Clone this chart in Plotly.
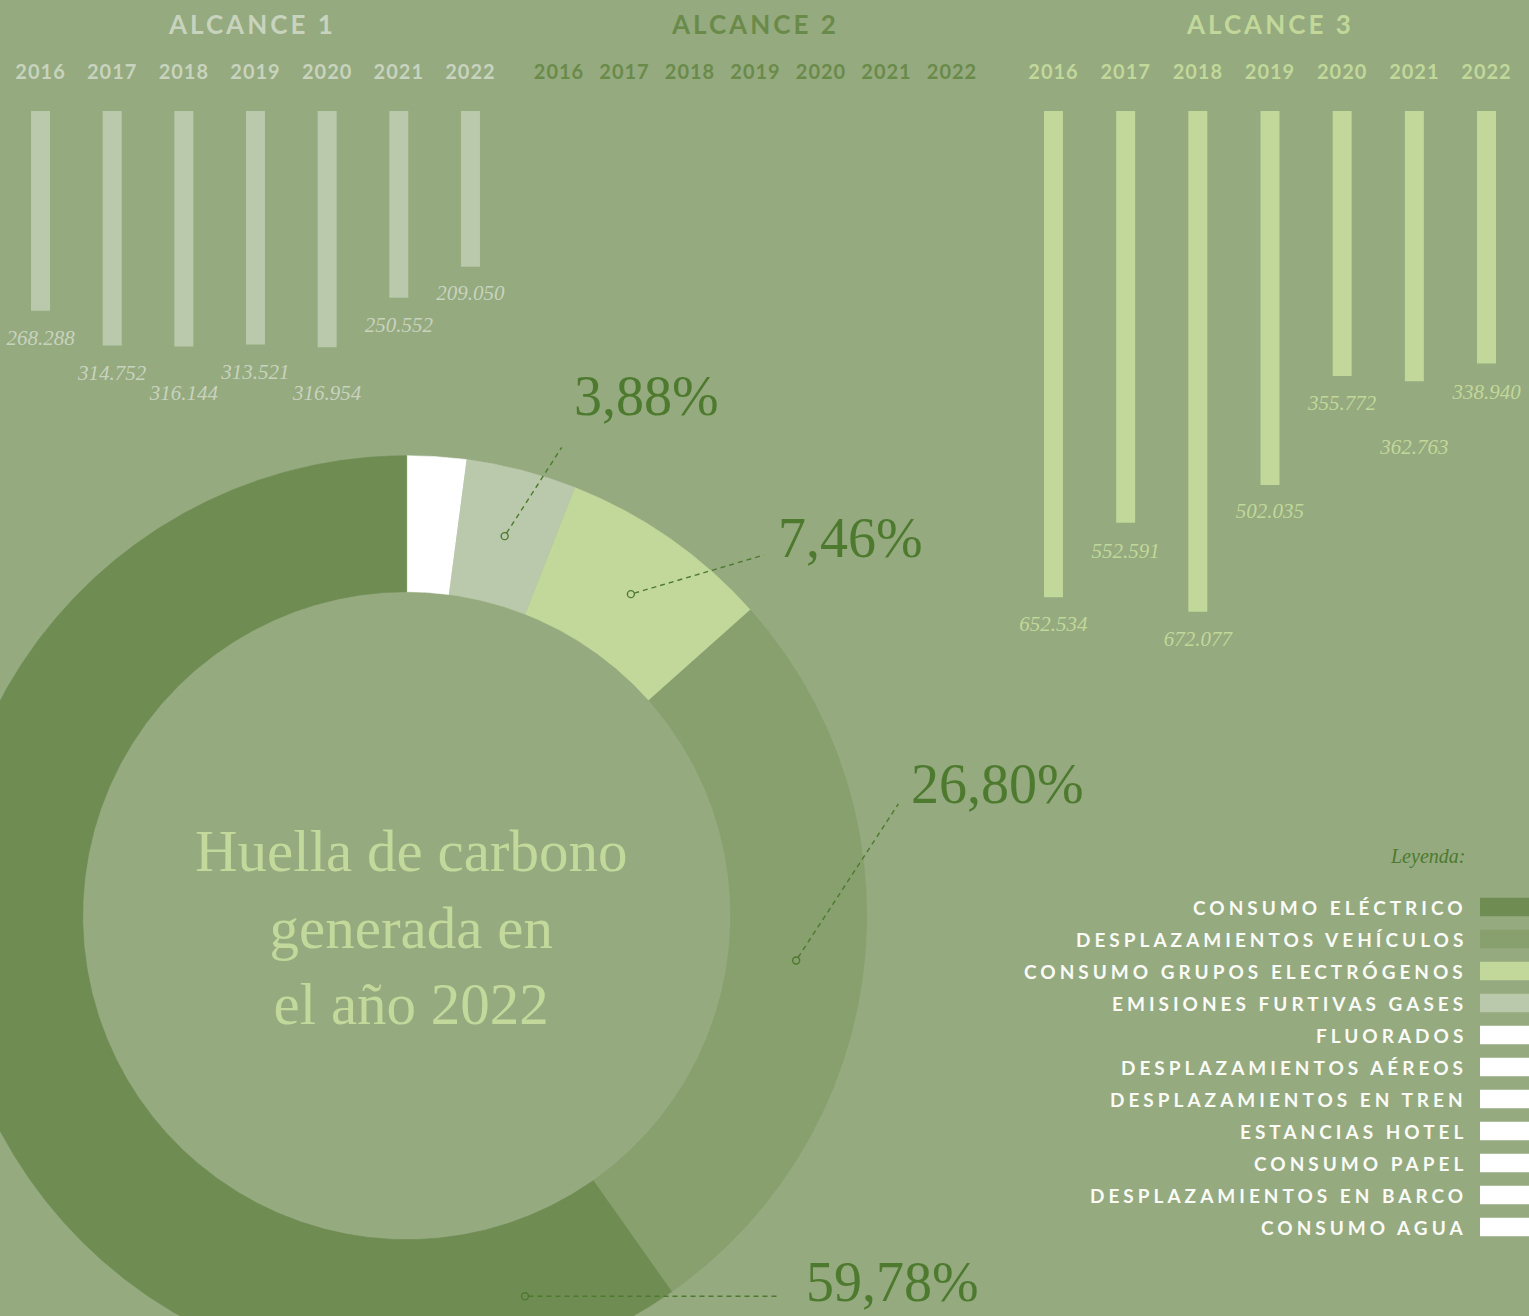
import numpy as np
import plotly.graph_objects as go

W, H = 1529, 1316

# ---------------- data ----------------
years = ["2016", "2017", "2018", "2019", "2020", "2021", "2022"]
alcance1 = [268.288, 314.752, 316.144, 313.521, 316.954, 250.552, 209.050]
alcance2 = [None, None, None, None, None, None, None]
alcance3 = [652.534, 552.591, 672.077, 502.035, 355.772, 362.763, 338.940]
scope_titles = ["ALCANCE 1", "ALCANCE 2", "ALCANCE 3"]

slice_names = ["Otras fuentes", "Emisiones furtivas gases fluorados",
               "Consumo grupos electrógenos", "Desplazamientos vehículos",
               "Consumo eléctrico"]
slice_pct = [2.08, 3.88, 7.46, 26.80, 59.78]
slice_labelled = [False, True, True, True, True]

center_title = ["Huella de carbono", "generada en", "el año 2022"]

legend_title = "Leyenda:"
legend_labels = ["CONSUMO ELÉCTRICO", "DESPLAZAMIENTOS VEHÍCULOS",
                 "CONSUMO GRUPOS ELECTRÓGENOS", "EMISIONES FURTIVAS GASES",
                 "FLUORADOS", "DESPLAZAMIENTOS AÉREOS", "DESPLAZAMIENTOS EN TREN",
                 "ESTANCIAS HOTEL", "CONSUMO PAPEL", "DESPLAZAMIENTOS EN BARCO",
                 "CONSUMO AGUA"]

# ---------------- style ----------------
BG = "#95AA7F"
DARK = "#6F8C52"
MID = "#87A06E"
LIGHT = "#C1D89A"
GREY = "#BAC9AB"
WHITE = "#FFFFFF"
PCT_COL = "#4E7A2F"
A1_TXT = "#C8D3BE"
A2_TXT = "#6A8A4A"
A3_TXT = "#C1D89A"
TITLE_COL = "#C3D99C"
SANS = "Lato"
SERIF = "Liberation Serif"

slice_colors = [WHITE, GREY, LIGHT, MID, DARK]
legend_colors = [DARK, MID, LIGHT, GREY, WHITE, WHITE, WHITE, WHITE, WHITE, WHITE, WHITE]


def px(x):
    return x / W


def py(y):
    return 1 - y / H


def spaced(t, s):
    return f'<span style="letter-spacing:{s}px">{t}</span>'


fig = go.Figure()

# ---------------- bar panels ----------------
BAR_TOP, BAR_BOTTOM = 111, 711
PX_PER_UNIT = 0.745
y_range_len = (BAR_BOTTOM - BAR_TOP) / PX_PER_UNIT

fig.add_trace(go.Bar(x=years, y=alcance1, xaxis="x", yaxis="y", marker_color=GREY,
                     marker_line_width=0, width=0.265, hoverinfo="skip"))
fig.add_trace(go.Bar(x=years, y=alcance2, xaxis="x2", yaxis="y", marker_color=MID,
                     marker_line_width=0, width=0.265, hoverinfo="skip"))
fig.add_trace(go.Bar(x=years, y=alcance3, xaxis="x3", yaxis="y", marker_color=LIGHT,
                     marker_line_width=0, width=0.263, hoverinfo="skip"))

# value labels under the bars (pixel offsets below the bar end)
a1_offsets = [29, 29, 48, 29, 48, 29, 28]
a3_offsets = [29, 30, 29, 28, 29, 67, 30]
for vals, xr, offs, col in [(alcance1, "x", a1_offsets, A1_TXT),
                            (alcance3, "x3", a3_offsets, A3_TXT)]:
    fig.add_trace(go.Scatter(
        x=years, y=[v + o / PX_PER_UNIT for v, o in zip(vals, offs)],
        xaxis=xr, yaxis="y", mode="text",
        text=[f"{v:.3f}" for v in vals], textposition="middle center",
        textfont=dict(family=SERIF, size=21, color=col, style="italic"),
        hoverinfo="skip", cliponaxis=False))

panel_domains = [(4.7, 506.3), (526.25, 984.75), (1017.4, 1522.6)]
panel_txt = [A1_TXT, A2_TXT, A3_TXT]
axis_common = dict(type="category", side="top", anchor="y", range=[-0.5, 6.5],
                   categoryorder="array", categoryarray=years,
                   tickvals=years, ticktext=[spaced(y, 1) for y in years],
                   ticks="outside", ticklen=23, tickcolor="rgba(0,0,0,0)",
                   showgrid=False, showline=False, zeroline=False, fixedrange=True)
layout_axes = {}
for i, (d, c) in enumerate(zip(panel_domains, panel_txt)):
    key = "xaxis" if i == 0 else f"xaxis{i + 1}"
    layout_axes[key] = dict(axis_common, domain=[px(d[0]), px(d[1])],
                            tickfont=dict(family=SANS, size=20, color=c, weight=700))
layout_axes["yaxis"] = dict(domain=[py(BAR_BOTTOM), py(BAR_TOP)], range=[y_range_len, 0],
                            visible=False, fixedrange=True)

annotations = []
title_centers = [250.5, 753, 1268]
for t, cx, c in zip(scope_titles, title_centers, panel_txt):
    annotations.append(dict(xref="paper", yref="paper", x=px(cx + 1.5), y=py(24),
                            text=spaced(t, 3), showarrow=False, xanchor="center",
                            yanchor="middle",
                            font=dict(family=SANS, size=26, color=c, weight=700)))

# ---------------- donut (drawn on a 1 unit = 1 px axis pair) ----------------
CX, CY = 406.7, 915.7
R_OUT, R_IN = 460, 324
R_MID = (R_OUT + R_IN) / 2
layout_axes["xaxis4"] = dict(domain=[0, 1], range=[-CX, W - CX], anchor="y2",
                             visible=False, fixedrange=True)
layout_axes["yaxis2"] = dict(domain=[0, 1], range=[-(H - CY), CY], anchor="x4",
                             visible=False, fixedrange=True)

bounds = np.radians(np.concatenate([[0], np.cumsum(slice_pct)]) / 100 * 360)
for i, (name, col) in enumerate(zip(slice_names, slice_colors)):
    t0, t1 = bounds[i], bounds[i + 1]
    n = max(int((t1 - t0) / 0.004), 4)
    ts = np.linspace(t0, t1, n)
    xs = np.concatenate([R_OUT * np.sin(ts), R_IN * np.sin(ts[::-1])])
    ys = np.concatenate([R_OUT * np.cos(ts), R_IN * np.cos(ts[::-1])])
    fig.add_trace(go.Scatter(x=xs, y=ys, xaxis="x4", yaxis="y2", mode="lines",
                             fill="toself", fillcolor=col, line=dict(width=0.6, color=col),
                             name=name, hoverinfo="skip"))

# leader lines & percentage labels (label positions in page pixels)
leader_tips_px = [None, (561.7, 447.3), (764, 555), (898.3, 804), (778, 1296.3)]
anchor_override_px = [None, None, None, None, (525, 1296.3)]
pct_label_px = [None, (572, 396), (776, 538), (909, 784), (804, 1282)]

for i in range(len(slice_pct)):
    if not slice_labelled[i]:
        continue
    if anchor_override_px[i] is None:
        tm = (bounds[i] + bounds[i + 1]) / 2
        ax_, ay_ = R_MID * np.sin(tm), R_MID * np.cos(tm)
    else:
        ax_, ay_ = anchor_override_px[i][0] - CX, CY - anchor_override_px[i][1]
    tx, ty = leader_tips_px[i][0] - CX, CY - leader_tips_px[i][1]
    dx, dy = tx - ax_, ty - ay_
    L = np.hypot(dx, dy)
    sx, sy = ax_ + dx / L * 3.5, ay_ + dy / L * 3.5
    fig.add_trace(go.Scatter(x=[sx, tx], y=[sy, ty], xaxis="x4", yaxis="y2", mode="lines",
                             line=dict(color=PCT_COL, width=1.4, dash="5px,4px"),
                             hoverinfo="skip"))
    fig.add_trace(go.Scatter(x=[ax_], y=[ay_], xaxis="x4", yaxis="y2", mode="markers",
                             marker=dict(symbol="circle-open", size=7, color=PCT_COL,
                                         line=dict(width=1.4, color=PCT_COL)),
                             hoverinfo="skip"))
    lx, ly = pct_label_px[i]
    annotations.append(dict(xref="paper", yref="paper", x=px(lx), y=py(ly),
                            text=f"{slice_pct[i]:.2f}".replace(".", ",") + "%",
                            showarrow=False, xanchor="left", yanchor="middle",
                            font=dict(family=SERIF, size=56, color=PCT_COL)))

annotations.append(dict(xref="paper", yref="paper", x=px(411), y=py(927),
                        text="<br>".join(center_title), showarrow=False,
                        xanchor="center", yanchor="middle", align="center",
                        font=dict(family=SERIF, size=59, color=TITLE_COL)))

# ---------------- legend ----------------
shapes = []
annotations.append(dict(xref="paper", yref="paper", x=px(1467), y=py(857),
                        text=legend_title, showarrow=False, xanchor="right",
                        yanchor="middle",
                        font=dict(family=SERIF, size=20, color=PCT_COL, style="italic")))
ROW0, ROW_STEP, SW_H = 907, 32, 18.6
for k, (lab, col) in enumerate(zip(legend_labels, legend_colors)):
    cyk = ROW0 + k * ROW_STEP
    annotations.append(dict(xref="paper", yref="paper", x=px(1469), y=py(cyk),
                            text=spaced(lab, 4), showarrow=False, xanchor="right",
                            yanchor="middle",
                            font=dict(family=SANS, size=19, color="#FAFBF7", weight=700)))
    shapes.append(dict(type="rect", xref="paper", yref="paper", x0=px(1480), x1=1,
                       y0=py(cyk + SW_H / 2), y1=py(cyk - SW_H / 2),
                       fillcolor=col, line=dict(width=0), layer="above"))

fig.update_layout(width=W, height=H, margin=dict(l=0, r=0, t=0, b=0, pad=0),
                  paper_bgcolor=BG, plot_bgcolor="rgba(0,0,0,0)", showlegend=False,
                  barmode="group", annotations=annotations, shapes=shapes,
                  hovermode=False, **layout_axes)

fig.write_html("out.html", config={"displayModeBar": False},
               post_script="document.body.style.margin='0px';"
                           "document.body.style.overflow='hidden';")
